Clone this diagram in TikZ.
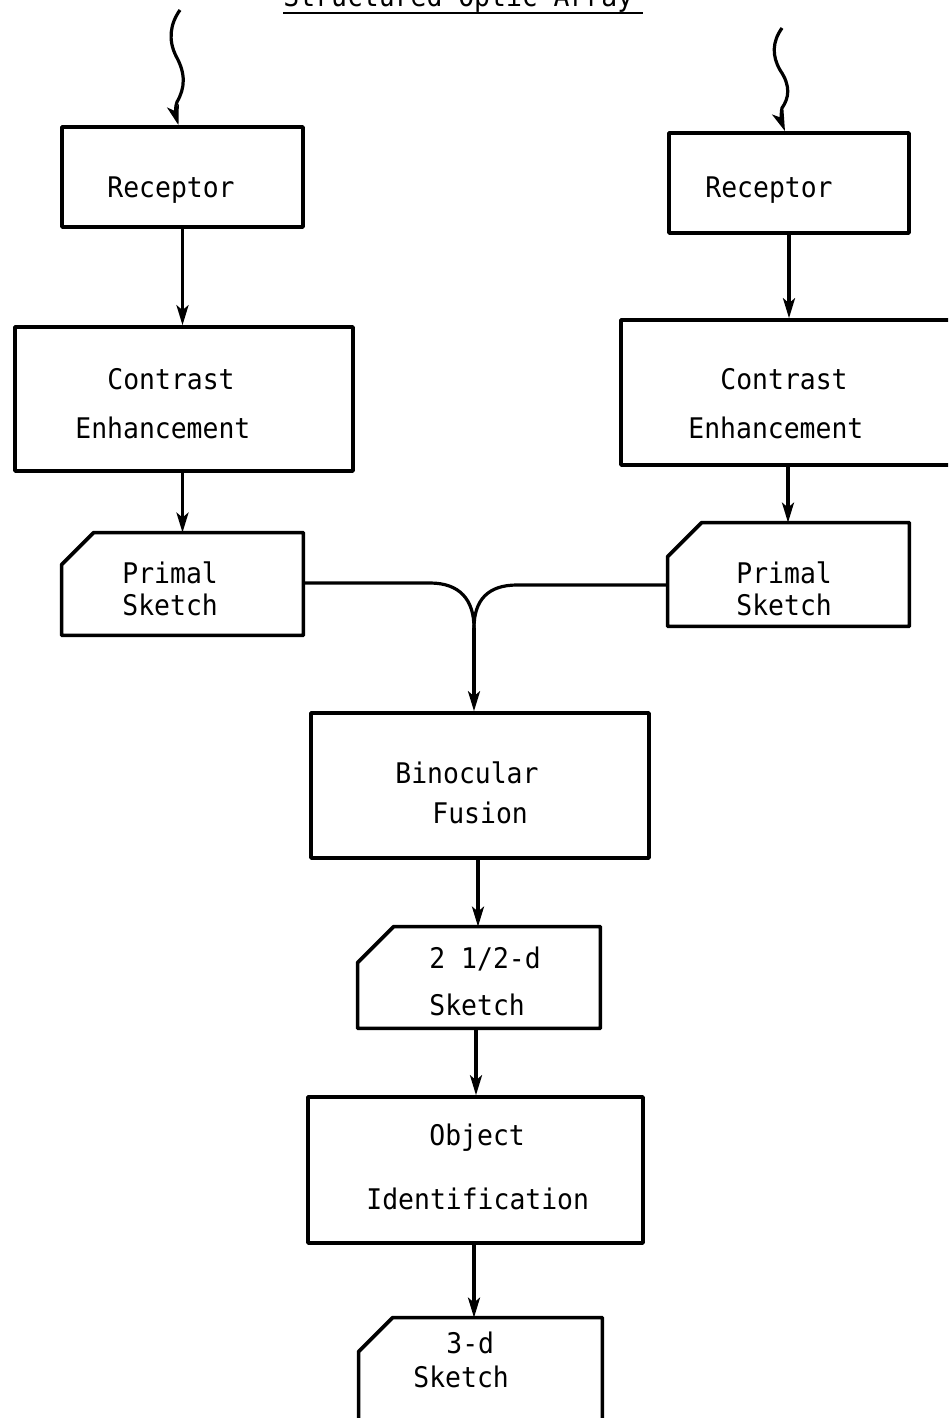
\documentclass[tikz,border=0pt]{standalone}
\usepackage{fontspec}
\newfontfamily\tw{DejaVu Sans Mono}[FakeStretch=0.93]
\usetikzlibrary{arrows.meta,calc}
\newcommand{\px}{0.5pt}
\begin{document}
\begin{tikzpicture}[x=0.5pt,y=-0.5pt,
  boxline/.style={line width=1.8pt,line join=round},
  plainbox/.style={boxline,draw,rectangle,inner sep=0pt},
  sketchframe/.style={rectangle,inner sep=0pt,draw=none},
  wire/.style={line width=1.6pt},
  arr/.style={wire,-{Stealth[length=10pt,width=6pt,inset=2.5pt]}},
  txt/.style={anchor=base west,inner sep=0pt,font=\tw\fontsize{14.2pt}{17pt}\selectfont}]
\useasboundingbox (0,0) rectangle (948,1418);
\clip (0,0) rectangle (948,1418);

% heading
\node[txt] (title) at (283,7) {Structured Optic Array};
\draw[line width=1.2pt] ([yshift=-3pt]title.base west) -- ++(360,0);

% plain process boxes
\node[plainbox,minimum width=241*\px,minimum height=100*\px] (rec1) at (182.5,177) {};
\node[plainbox,minimum width=240*\px,minimum height=100*\px] (rec2) at (789,183) {};
\node[plainbox,minimum width=338*\px,minimum height=144*\px] (con1) at (184,399) {};
\node[plainbox,minimum width=339*\px,minimum height=145*\px] (con2) at (790.5,392.5) {};
\node[plainbox,minimum width=338*\px,minimum height=145*\px] (bin) at (480,785.5) {};
\node[plainbox,minimum width=335*\px,minimum height=146*\px] (obj) at (475.5,1170) {};

% sketch boxes (cut top-left corner)
\node[sketchframe,minimum width=241*\px,minimum height=102*\px] (ps1) at (182.5,584) {};
\node[sketchframe,minimum width=241*\px,minimum height=103*\px] (ps2) at (788.5,574.5) {};
\node[sketchframe,minimum width=242*\px,minimum height=101*\px] (s25) at (479,977.5) {};
\node[sketchframe,minimum width=243*\px,minimum height=104*\px] (s3) at (480.5,1370) {};
\foreach \b/\c in {ps1/32,ps2/34,s25/36,s3/34}{
  \draw[boxline] ($(\b.north west)+(0,\c)$) -- ($(\b.north west)+(\c,0)$)
    -- (\b.north east) -- (\b.south east) -- (\b.south west) -- cycle;
}

% labels
\node[txt] (l1) at (107,197) {Receptor};
\node[txt] (l2) at (705,197) {Receptor};
\node[txt] (l3) at (107,389) {Contrast};
\node[txt] (l4) at (75,438) {Enhancement};
\node[txt] (l5) at (720,389) {Contrast};
\node[txt] (l6) at (688,438) {Enhancement};
\node[txt] (l7) at (122,583) {Primal};
\node[txt] (l8) at (122,615) {Sketch};
\node[txt] (l9) at (736,583) {Primal};
\node[txt] (l10) at (736,615) {Sketch};
\node[txt] (l11) at (395,783) {Binocular};
\node[txt] (l12) at (432,823) {Fusion};
\node[txt] (l13) at (429,968) {2 1/2-d};
\node[txt] (l14) at (429,1015) {Sketch};
\node[txt] (l15) at (429,1145) {Object};
\node[txt] (l16) at (366,1209) {Identification};
\node[txt] (l17) at (446,1353) {3-d};
\node[txt] (l18) at (413,1387) {Sketch};

% incoming light (wavy arrows)
\coordinate (wa) at (180,10);
\coordinate (wb) at (782,28);
\draw[arr] (wa) .. controls (170,24) and (168,40) .. (176,56)
  .. controls (186,74) and (185,88) .. (177,102)
  .. controls (174,110) and (177,120) .. ($(rec1.north)+(-4,0)$);
\draw[arr] (wb) .. controls (772,42) and (772,56) .. (780,70)
  .. controls (791,86) and (789,98) .. (782,108)
  .. controls (780,116) and (783,126) .. ($(rec2.north)+(-4,0)$);

% vertical flow
\draw[arr] (rec1.south) -- (rec1.south |- con1.north);
\draw[arr] (con1.south -| rec1.south) -- (rec1.south |- ps1.north);
\draw[arr] (rec2.south) -- (rec2.south |- con2.north);
\draw[arr] ($(con2.south -| rec2.south)+(-1,0)$) -- ($(rec2.south |- ps2.north)+(-1,0)$);
\draw[arr] ($(bin.south)+(-2,0)$) -- ($(bin.south |- s25.north)+(-2,0)$);
\draw[arr] ($(s25.south)+(-3,0)$) -- ($(s25.south |- obj.north)+(-3,0)$);
\draw[arr] ($(obj.south)+(-1.5,0)$) -- ($(obj.south |- s3.north)+(-1.5,0)$);

% binocular merge
\coordinate (jl) at (430,583);
\coordinate (jr) at (517,585);
\coordinate (m) at (474,628);
\draw[wire] (ps1.east |- jl) -- (jl) .. controls (460,583) and (474,600) .. (m);
\draw[wire] (ps2.west |- jr) -- (jr) .. controls (488,585) and (474,600) .. (m);
\draw[arr] (m) -- (m |- bin.north);
\end{tikzpicture}
\end{document}
